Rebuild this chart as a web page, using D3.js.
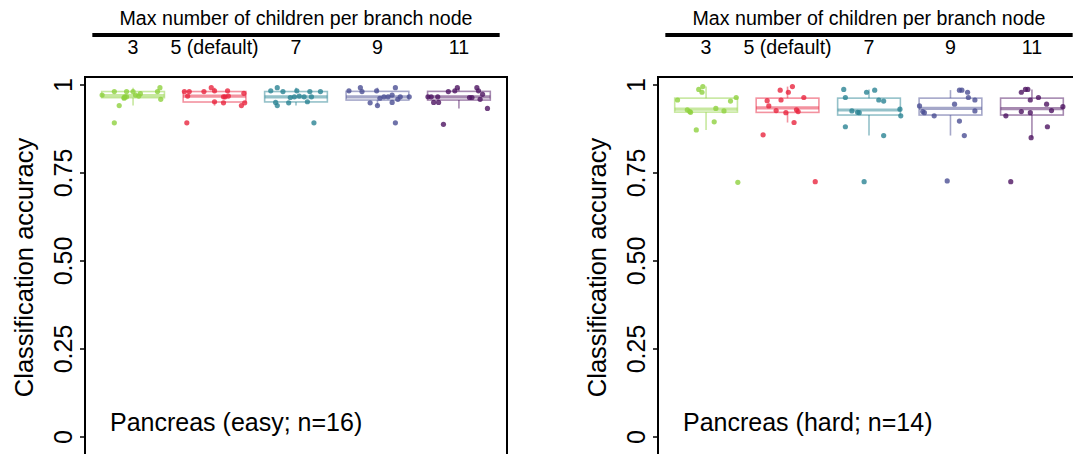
<!DOCTYPE html>
<html lang="en">
<head>
<meta charset="utf-8">
<title>Classification accuracy by max children per branch node</title>
<script src="https://d3js.org/d3.v7.min.js"></script>
<style>
  body { margin: 0; background: #fff; }
  svg { display: block; font-family: "Liberation Sans", Arial, Helvetica, sans-serif; }
</style>
</head>
<body>
<svg width="1073" height="454"></svg>
<script>
// categories on the x axis
const categories = ["3", "5 (default)", "7", "9", "11"];
const colors = ["#8fd13f", "#e8263f", "#2a8393", "#4b4f94", "#4e1462"];
const yTicks = [0, 0.25, 0.5, 0.75, 1];

// Pancreas (easy; n=16) - accuracy per run, one array per category
const easyAcc = [
  [.970, .980, .940, .961, .965, .980, .965, .980, .970, .967, .974, .980, .991, .958, .891, .963],
  [.980, .980, .967, .980, .991, .982, .951, .965, .982, .965, .948, .975, .948, .940, .891, .967],
  [.982, .991, .980, .949, .940, .948, .963, .965, .982, .967, .965, .951, .980, .965, .980, .891],
  [.982, .991, .980, .982, .991, .948, .940, .961, .965, .965, .970, .949, .958, .965, .965, .891],
  [.965, .949, .949, .965, .980, .982, .991, .963, .963, .991, .982, .972, .958, .932, .887, .965]
];
// horizontal jitter, in category units
const easyJitter = [
  [-0.38, -0.23, -0.17, -0.11, -0.10, -0.08, -0.08, 0.00, 0.03, 0.07, 0.09, 0.30, 0.33, 0.34, -0.23, -0.11],
  [-0.37, -0.31, -0.33, -0.13, -0.04, 0.00, 0.00, 0.11, 0.16, 0.13, 0.11, 0.36, 0.37, 0.33, -0.34, 0.17],
  [-0.31, -0.23, -0.16, -0.25, -0.23, -0.09, -0.07, -0.02, 0.01, 0.04, 0.10, 0.14, 0.17, 0.19, 0.30, 0.22],
  [-0.35, -0.21, -0.19, -0.01, 0.22, -0.09, 0.00, 0.03, 0.08, 0.13, 0.18, 0.18, 0.25, 0.28, 0.39, 0.22],
  [-0.38, -0.31, -0.25, -0.26, -0.13, -0.05, -0.02, 0.13, 0.16, 0.22, 0.24, 0.29, 0.26, 0.35, -0.19, -0.34]
];

// Pancreas (hard; n=14)
const hardAcc = [
  [.986, .994, .978, .956, .953, .963, .928, .923, .921, .932, .925, .894, .871, .722],
  [.984, .994, .978, .954, .956, .963, .939, .926, .920, .928, .923, .892, .857, .724],
  [.986, .978, .984, .963, .956, .953, .930, .911, .925, .921, .920, .880, .855, .724],
  [.984, .984, .978, .963, .956, .939, .923, .920, .911, .944, .925, .896, .855, .726],
  [.978, .986, .986, .956, .963, .944, .937, .926, .911, .923, .920, .880, .849, .724]
];
const hardJitter = [
  [-0.09, -0.04, -0.05, -0.35, 0.30, 0.37, -0.23, -0.20, -0.19, 0.12, 0.22, 0.10, -0.12, 0.39],
  [-0.09, 0.06, 0.01, -0.25, -0.08, 0.20, -0.23, -0.14, -0.02, 0.11, 0.13, 0.08, -0.30, 0.34],
  [-0.31, -0.03, 0.07, -0.29, 0.12, 0.18, 0.38, 0.39, -0.21, -0.14, -0.12, -0.29, 0.18, -0.06],
  [0.11, 0.14, 0.21, 0.22, 0.30, -0.38, -0.34, -0.32, -0.20, 0.05, 0.30, 0.11, 0.17, -0.04],
  [-0.13, -0.08, -0.05, -0.02, 0.08, 0.18, 0.38, 0.24, -0.32, -0.13, -0.02, 0.19, -0.01, -0.26]
];

const svg = d3.select("svg");

// panel geometry
const panelW = 422, panelTop = 77, panelBottom = 458;
const y = d3.scaleLinear().domain([0, 1]).range([436.5, 84.5]);

function drawPanel(left, acc, jitter, label) {
  const g = svg.append("g");
  const x = d3.scalePoint()
      .domain(categories)
      .range([left, left + panelW])
      .padding(0.59);
  const step = x.step();
  const boxW = step * 0.77;

  // header: title, thick rule, category labels
  const x0 = x(categories[0]) - step / 2;
  const x1 = x(categories[categories.length - 1]) + step / 2;
  g.append("text")
      .attr("x", (x0 + x1) / 2)
      .attr("y", 25)
      .attr("text-anchor", "middle")
      .style("font-size", "19.6px")
      .text("Max number of children per branch node");
  g.append("line")
      .attr("x1", x0).attr("x2", x1)
      .attr("y1", 35).attr("y2", 35)
      .attr("stroke", "#000")
      .attr("stroke-width", 4);
  g.selectAll("text.cat")
      .data(categories)
      .join("text")
      .attr("class", "cat")
      .attr("x", d => x(d))
      .attr("y", 53.5)
      .attr("text-anchor", "middle")
      .style("font-size", "19.6px")
      .text(d => d);

  // boxes, computed from the data (ggplot style, no outlier marks)
  categories.forEach((c, i) => {
    const v = acc[i].slice().sort(d3.ascending);
    const q1 = d3.quantile(v, 0.25), med = d3.quantile(v, 0.5), q3 = d3.quantile(v, 0.75);
    const iqr = q3 - q1;
    const lo = d3.min(v.filter(d => d >= q1 - 1.5 * iqr));
    const hi = d3.max(v.filter(d => d <= q3 + 1.5 * iqr));
    const cx = x(c);
    const bg = g.append("g")
        .attr("stroke", colors[i])
        .attr("stroke-opacity", 0.5)
        .attr("fill", "none");
    bg.append("line")
        .attr("x1", cx).attr("x2", cx)
        .attr("y1", y(q3)).attr("y2", y(hi))
        .attr("stroke-width", 1.6);
    bg.append("line")
        .attr("x1", cx).attr("x2", cx)
        .attr("y1", y(q1)).attr("y2", y(lo))
        .attr("stroke-width", 1.6);
    bg.append("rect")
        .attr("x", cx - boxW / 2)
        .attr("y", y(q3))
        .attr("width", boxW)
        .attr("height", y(q1) - y(q3))
        .attr("stroke-width", 1.6);
    bg.append("line")
        .attr("x1", cx - boxW / 2).attr("x2", cx + boxW / 2)
        .attr("y1", y(med)).attr("y2", y(med))
        .attr("stroke-width", 3.2);
  });

  // jittered points
  categories.forEach((c, i) => {
    g.append("g")
      .selectAll("circle")
      .data(acc[i].map((d, j) => ({ v: d, j: jitter[i][j] })))
      .join("circle")
      .attr("cx", d => x(c) + d.j * step)
      .attr("cy", d => y(d.v))
      .attr("r", 2.6)
      .attr("fill", colors[i])
      .attr("fill-opacity", 0.8);
  });

  // panel frame
  g.append("rect")
      .attr("x", left)
      .attr("y", panelTop)
      .attr("width", panelW)
      .attr("height", panelBottom - panelTop)
      .attr("fill", "none")
      .attr("stroke", "#000")
      .attr("stroke-width", 2);

  // y axis
  const axis = g.append("g")
      .attr("transform", "translate(" + left + ",0)")
      .call(d3.axisLeft(y)
        .tickValues(yTicks)
        .tickSize(5)
        .tickFormat(d => (d === 0 || d === 1) ? d3.format("d")(d) : d3.format(".2f")(d)));
  axis.select(".domain").remove();
  axis.selectAll(".tick line").attr("stroke", "#000").attr("stroke-width", 1.5);
  axis.selectAll(".tick text")
      .attr("x", null).attr("dy", null)
      .attr("text-anchor", "middle")
      .attr("fill", "#000")
      .attr("transform", "translate(-13,0) rotate(-90)")
      .style("font-size", "25px")
      .style("font-family", "'Liberation Sans', Arial, Helvetica, sans-serif");

  g.append("text")
      .attr("transform", "translate(" + (left - 52) + "," + ((panelTop + panelBottom) / 2) + ") rotate(-90)")
      .attr("text-anchor", "middle")
      .style("font-size", "25.5px")
      .text("Classification accuracy");

  // panel annotation
  g.append("text")
      .attr("x", left + 25)
      .attr("y", 431)
      .style("font-size", "25px")
      .text(label);
}

drawPanel(85, easyAcc, easyJitter, "Pancreas (easy; n=16)");
drawPanel(658, hardAcc, hardJitter, "Pancreas (hard; n=14)");
</script>
</body>
</html>
